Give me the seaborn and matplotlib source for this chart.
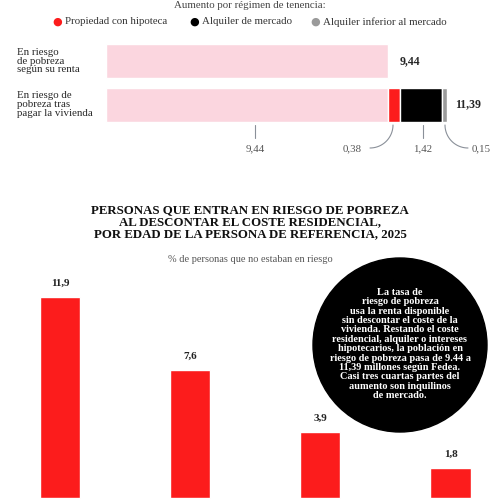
import matplotlib
matplotlib.use("Agg")
import matplotlib.pyplot as plt
import seaborn as sns
import pandas as pd
from matplotlib.patches import Ellipse

sns.set_theme(style="white")
plt.rcParams['font.family'] = ['Liberation Serif', 'DejaVu Serif']

rows = ["En riesgo\nde pobreza\nsegún su renta", "En riesgo de\npobreza tras\npagar la vivienda"]
base = [9.44, 9.44]
seg_names = ["Propiedad con hipoteca", "Alquiler de mercado", "Alquiler inferior al mercado"]
seg_vals = [0.38, 1.42, 0.15]
totals = ["9,44", "11,39"]
seg_labels = ["9,44", "0,38", "1,42", "0,15"]

ages = ["Menos de 30", "30-44", "45-64", "65 y más"]
age_vals = [11.9, 7.6, 3.9, 1.8]
age_labels = ["11,9", "7,6", "3,9", "1,8"]

PINK = "#fbd6df"; RED = "#fc1c1c"; BLACK = "#000000"; GREY = "#9a9a9a"
seg_cols = [RED, BLACK, GREY]

fig = plt.figure(figsize=(5, 5), dpi=100)
fig.patch.set_facecolor("white")

# ---- top chart
ax = fig.add_axes([106/500, 0.75, 364/500, 0.17])
df = pd.DataFrame({"row": rows, "base": base})
sns.barplot(data=df, y="row", x="base", color=PINK, orient="h", width=0.78, ax=ax, saturation=1)
left = base[1]
for v, c in zip(seg_vals, seg_cols):
    ax.barh(1, v, left=left, height=0.78, color=c)
    left += v
ax.set_xlim(0, 364/29.9)
ax.set_ylim(1.47, -0.48)
ax.axis("off")
ax.text(9.44 + 0.37, 0, totals[0], ha="left", va="center", fontsize=8.5, fontweight="bold")
ax.text(left + 0.3, 1, totals[1], ha="left", va="center", fontsize=8.5, fontweight="bold")

def px(x, y):
    return (x/500, 1 - y/500)

for i, r in enumerate(rows):
    fig.text(*px(17, 61 + 43.5*i), r, ha="left", va="center", fontsize=7.8, linespacing=0.95)

fig.text(*px(250, 5), "Aumento por régimen de tenencia:", ha="center", va="center", fontsize=7.8, color="#444")
for xm, name, c in zip([57, 194, 315], seg_names, seg_cols):
    fig.text(*px(xm, 22), "●", ha="center", va="center", fontsize=8, color=c, family="DejaVu Sans")
    fig.text(*px(xm + 8, 22), name, ha="left", va="center", fontsize=7.8, color="#333")

lc = "#8a9099"
# 9,44
fig.lines.append(plt.Line2D([255/500, 255/500], [1-125/500, 1-138/500], transform=fig.transFigure, color=lc, lw=0.8))
fig.text(*px(255, 149), seg_labels[0], ha="center", va="center", fontsize=7.8, color="#555")
# 0,38 curve
import numpy as np
t = np.linspace(0, np.pi/2, 20)
xs = 370 + 23*np.sin(t); ys = 148 - 23*(1-np.cos(t))
fig.lines.append(plt.Line2D(xs/500, 1-ys/500, transform=fig.transFigure, color=lc, lw=0.8))
fig.text(*px(362, 149), seg_labels[1], ha="right", va="center", fontsize=7.8, color="#555")
fig.lines.append(plt.Line2D([423/500, 423/500], [1-125/500, 1-138/500], transform=fig.transFigure, color=lc, lw=0.8))
fig.text(*px(423, 149), seg_labels[2], ha="center", va="center", fontsize=7.8, color="#555")
xs = 468 - 23*np.sin(t); ys = 148 - 23*(1-np.cos(t))
fig.lines.append(plt.Line2D(xs/500, 1-ys/500, transform=fig.transFigure, color=lc, lw=0.8))
fig.text(*px(472, 149), seg_labels[3], ha="left", va="center", fontsize=7.8, color="#555")

# ---- bottom chart
fig.text(*px(250, 222), "PERSONAS QUE ENTRAN EN RIESGO DE POBREZA\nAL DESCONTAR EL COSTE RESIDENCIAL,\nPOR EDAD DE LA PERSONA DE REFERENCIA, 2025",
         ha="center", va="center", fontsize=9.3, fontweight="bold", linespacing=1.0, color="#111")
fig.text(*px(250, 259), "% de personas que no estaban en riesgo", ha="center", va="center", fontsize=7.5, color="#555")

ax2 = fig.add_axes([0, 0, 1, 0.48])
dfa = pd.DataFrame({"age": ages, "val": age_vals})
sns.barplot(data=dfa, x="age", y="val", color=RED, width=0.31, ax=ax2, saturation=1)
ax2.set_xlim(-0.46, 3.38)
ax2.set_ylim(-0.12, 14.1)
ax2.axis("off")
for i, (v, l) in enumerate(zip(age_vals, age_labels)):
    ax2.text(i, v + 0.55, l, ha="center", va="bottom", fontsize=8, fontweight="bold", color="#222")

circ = Ellipse(px(400, 345), 174/500, 174/500, transform=fig.transFigure, color="black", zorder=5)
fig.patches.append(circ)
fig.text(*px(400, 344), "La tasa de\nriesgo de pobreza\nusa la renta disponible\nsin descontar el coste de la\nvivienda. Restando el coste\nresidencial, alquiler o intereses\nhipotecarios, la población en\nriesgo de pobreza pasa de 9.44 a\n11,39 millones según Fedea.\nCasi tres cuartas partes del\naumento son inquilinos\nde mercado.",
         ha="center", va="center", fontsize=7.4, fontweight="bold", color="white", linespacing=1.05, zorder=6)

fig.savefig("out.png", dpi=100, facecolor="white")
